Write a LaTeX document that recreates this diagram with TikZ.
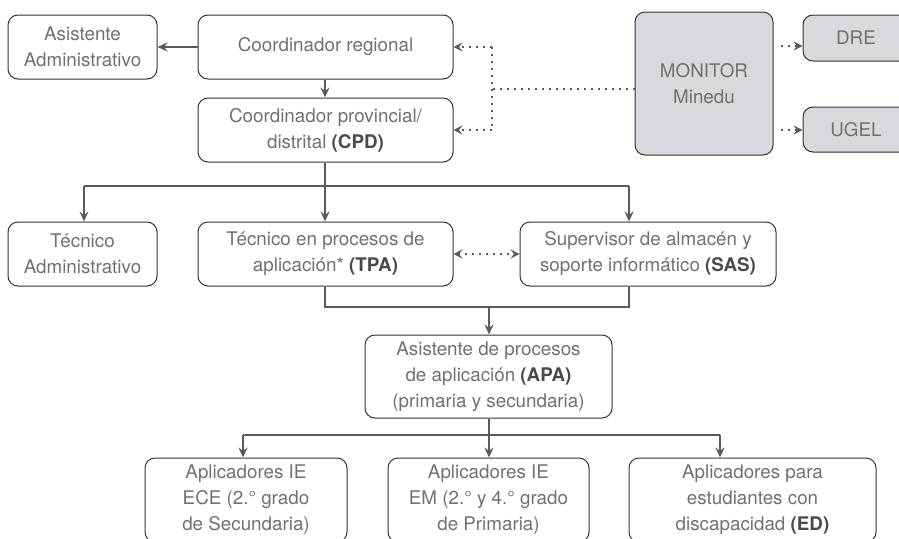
\documentclass[tikz,border=0pt]{standalone}
\usepackage{fontspec}
\setmainfont{TeX Gyre Heros}
\usetikzlibrary{arrows.meta}
\definecolor{txt}{HTML}{707070}
\definecolor{bold}{HTML}{4A4A4A}
\definecolor{edge}{HTML}{333333}
\definecolor{conn}{HTML}{5A5A5A}
\definecolor{mon}{HTML}{D9D9DD}
\newcommand{\bt}[1]{\textbf{\color{bold}#1}}
\tikzset{
  box/.style={draw=edge, line width=1pt, rounded corners=10pt, align=center,
    text=txt, font=\fontsize{18.8}{26}\selectfont, inner sep=0pt},
  gbox/.style={box, fill=mon},
  conline/.style={draw=conn, line width=1.7pt},
  arr/.style={conline, -{Stealth[length=10pt,width=9pt,inset=3.5pt]}},
  dots/.style={draw=conn, line width=1.7pt, dash pattern=on 1.7pt off 5.3pt},
  darr/.style={dots, -{Stealth[length=9pt,width=9pt,inset=3.5pt]}},
  ddarr/.style={dots, {Stealth[length=9pt,width=9pt,inset=3.5pt]}-{Stealth[length=9pt,width=9pt,inset=3.5pt]}},
}
\begin{document}
\begin{tikzpicture}[x=1pt,y=-1pt]
\clip (0,0) rectangle (899,538);
\useasboundingbox (0,0) rectangle (899,538);
\node[box, minimum width=149, minimum height=64] (asis) at (82.5,47) {Asistente\\Administrativo};
\node[box, minimum width=255, minimum height=64] (creg) at (325.5,47) {Coordinador regional};
\node[box, minimum width=255, minimum height=64] (cpd) at (325.5,130) {Coordinador provincial/\\distrital \bt{(CPD)}};
\node[gbox, minimum width=138, minimum height=143] (mon) at (704,83.5) {MONITOR\\Minedu};
\node[gbox, minimum width=106, minimum height=46] (dre) at (856,38) {DRE};
\node[gbox, minimum width=106, minimum height=45] (ugel) at (856,129.5) {UGEL};
\node[box, minimum width=149, minimum height=64] (tadm) at (82.5,254) {Técnico\\Administrativo};
\node[box, minimum width=255, minimum height=64] (tpa) at (325.5,254) {Técnico en procesos de\\aplicación* \bt{(TPA)}};
\node[box, minimum width=256, minimum height=64] (sas) at (648,254) {Supervisor de almacén y\\soporte informático \bt{(SAS)}};
\node[box, minimum width=247, minimum height=83] (apa) at (488.5,376.5) {Asistente de procesos\\de aplicación \bt{(APA)}\\(primaria y secundaria)};
\node[box, minimum width=202, minimum height=84] (a1) at (246,500) {Aplicadores IE\\ECE (2.° grado\\de Secundaria)};
\node[box, minimum width=201, minimum height=84] (a2) at (488.5,500) {Aplicadores IE\\EM (2.° y 4.° grado\\de Primaria)};
\node[box, minimum width=247, minimum height=84] (a3) at (752.5,500) {Aplicadores para\\estudiantes con\\discapacidad \bt{(ED)}};
% coordinates
\coordinate (j1) at (325,186);
\coordinate (j1l) at (84,186);
\coordinate (j1r) at (629,186);
\coordinate (j2l) at (325,307);
\coordinate (j2r) at (629,307);
\coordinate (j2) at (489,307);
\coordinate (j3) at (489,435);
\coordinate (j3l) at (243,435);
\coordinate (j3r) at (720,435);
\coordinate (m1) at (492,89);
\coordinate (m1t) at (492,47);
\coordinate (m1b) at (492,130);
\coordinate (md) at (781,46);
\coordinate (mu) at (781,130);
% solid connectors
\draw[arr] (creg.west) -- (asis.east);
\draw[arr] (creg.south -| j1) -- (cpd.north -| j1);
\draw[conline] (cpd.south -| j1) -- (j1);
\draw[conline] (j1l) -- (j1r);
\draw[arr] (j1l) -- (tadm.north -| j1l);
\draw[arr] (j1) -- (tpa.north -| j1);
\draw[arr] (j1r) -- (sas.north -| j1r);
\draw[conline] (tpa.south -| j2l) -- (j2l) -- (j2r) -- (sas.south -| j2r);
\draw[arr] (j2) -- (apa.north -| j2);
\draw[conline] (apa.south -| j3) -- (j3);
\draw[conline] (j3l) -- (j3r);
\draw[arr] (j3l) -- (a1.north -| j3l);
\draw[arr] (j3) -- (a2.north -| j3);
\draw[arr] (j3r) -- (a3.north -| j3r);
% dotted connectors
\draw[dots] (mon.west |- m1) -- (m1);
\draw[dots] (m1t) -- (m1b);
\draw[darr] (m1t) -- (creg.east |- m1t);
\draw[darr] (m1b) -- (cpd.east |- m1b);
\draw[darr] (md) -- (dre.west |- md);
\draw[darr] (mu) -- (ugel.west |- mu);
\draw[ddarr] (tpa.east) -- (sas.west);
\end{tikzpicture}
\end{document}
